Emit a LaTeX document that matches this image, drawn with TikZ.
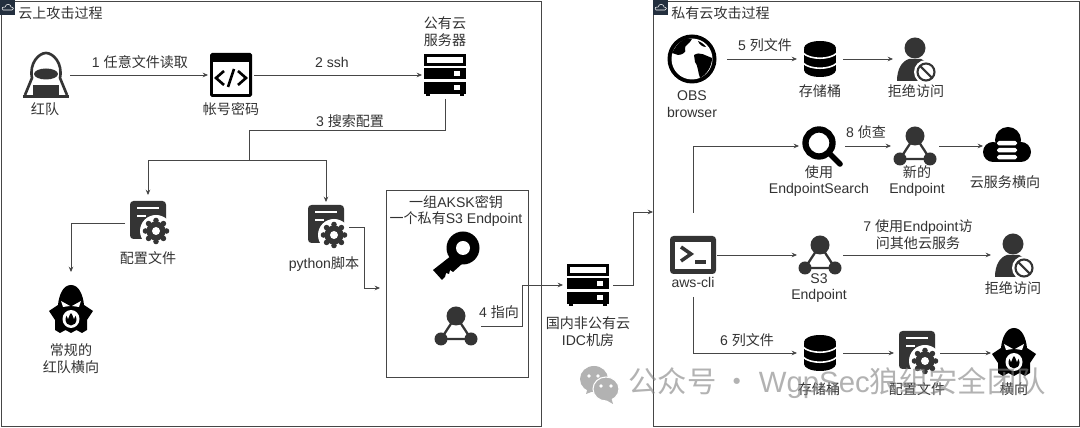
\documentclass[tikz,border=0pt]{standalone}
\usepackage{fontspec}
\setmainfont{Liberation Sans}
\newfontfamily\cjk{Noto Sans CJK SC}
\newcommand{\zh}[1]{{\cjk #1}}
\usetikzlibrary{arrows.meta,positioning}
\definecolor{icodark}{RGB}{52,52,52}
\definecolor{tagblue}{RGB}{35,47,62}
\definecolor{linegray}{RGB}{70,70,70}
\definecolor{textgray}{RGB}{50,50,50}
\tikzset{
  icohacker/.pic={
    \draw[icodark, line width=1.5pt, line join=round] (-21,20) -- (-14,3) .. controls (-17,-12) and (-7,-22) .. (0,-22) .. controls (7,-22) and (17,-12) .. (14,3) -- (21,20);
    \fill[icodark] (0,-1) ellipse (12 and 5.5);
    \fill[icodark] (-13,10) rectangle (13,21);
    \draw[icodark, line width=1.3pt] (-23,21.5) -- (23,21.5);
  },
  icocode/.pic={
    \fill[black, rounded corners=1pt] (-21,-22) rectangle (21,22);
    \fill[white] (-18,-13) rectangle (18,19);
    \draw[black, line width=1.5pt] (-7,-4) -- (-15,3) -- (-7,10);
    \draw[black, line width=1.5pt] (7,-4) -- (15,3) -- (7,10);
    \draw[black, line width=1.5pt] (3,-6) -- (-3,12);
  },
  icoserver/.pic={
    \draw[black, line width=1.3pt] (-19.5,-19.5) rectangle (19.5,-10.5);
    \fill[black] (-21,-7) rectangle (21,4);
    \fill[black] (-21,7) rectangle (21,19);
    \fill[black] (-19,19) rectangle (-15,21);
    \fill[black] (15,19) rectangle (19,21);
    \fill[white] (9,-4) rectangle (15,1);
    \fill[white] (9,10) rectangle (15,15);
  },
  icoconfig/.pic={
    \fill[icodark, rounded corners=2pt] (-18,-22) rectangle (18,16);
    \draw[white, line width=1.5pt] (-11,-15) -- (11,-15);
    \draw[white, line width=1.5pt] (-11,-7) -- (-2,-7);
    \fill[white] (8,8) circle (16);
    \fill[icodark] (8,8) circle (9.5);
    \foreach \a in {0,45,...,315} \fill[icodark] (8,8) ++(\a:10.5) circle (2.8);
    \fill[white] (8,8) circle (4);
  },
  icoghost/.pic={
    \fill[black] (0,-25) .. controls (8,-25) and (12,-15) .. (13,-5) .. controls (16,-3) and (19,-1) .. (22,1) -- (16,10) -- (16,20) -- (11,23) -- (5.5,20) -- (0,23) -- (-5.5,20) -- (-11,23) -- (-16,20) -- (-16,10) -- (-22,1) .. controls (-19,-1) and (-16,-3) .. (-13,-5) .. controls (-12,-15) and (-8,-25) .. (0,-25) -- cycle;
    \fill[white] (-10,-9) -- (-1,-4) -- (-8,-3) -- cycle;
    \fill[white] (10,-9) -- (1,-4) -- (8,-3) -- cycle;
    \fill[white] (0,9) ellipse (8.5 and 9);
    \fill[black] (0,9.5) ellipse (5.5 and 6);
    \fill[white] (-5,4) -- (-1,4) -- (-3,9) -- cycle;
    \fill[white] (5,4) -- (1,4) -- (3,9) -- cycle;
  },
  icokey/.pic={
    \fill[black] (7,-10) circle (16.5);
    \fill[white] (7,-10) circle (7);
    \fill[black] (-23,12) -- (0,-6) -- (7,5) -- (-3,14) -- (-6,12) -- (-7,16) -- (-10,15) -- (-11,19) -- (-14,22) -- cycle;
  },
  icoendpoint/.pic={
    \draw[icodark, line width=1.3pt] (0,-10) -- (-15,13) -- (15,13) -- cycle;
    \fill[icodark] (0,-10) circle (9.5);
    \fill[icodark] (-15,13) circle (6.5);
    \fill[icodark] (15,13) circle (6.5);
  },
  icoglobe/.pic={
    \fill[black] (0,0) circle (24.5);
    \fill[white] (0,0) circle (20.5);
    \fill[black] (-20,-6) .. controls (-14,-18) and (-6,-22) .. (0,-20) .. controls (-2,-15) and (-8,-14) .. (-7,-10) .. controls (-5,-7) and (-10,-4) .. (-14,-4) -- cycle;
    \fill[black] (2,-4) .. controls (8,-8) and (14,-3) .. (20,-1) .. controls (20,8) and (14,16) .. (8,19) .. controls (6,14) and (6,6) .. (3,3) -- cycle;
    \fill[black] (6,-18) .. controls (9,-17) and (13,-14) .. (14,-12) .. controls (10,-12) and (7,-15) .. (6,-18) -- cycle;
  },
  icobucket/.pic={
    \fill[black] (-16,-10) rectangle (16,11);
    \fill[black] (0,-11) ellipse (16 and 7);
    \fill[black] (0,11) ellipse (16 and 7);
    \draw[white, line width=.9pt] (-17,-6) .. controls (-10,1) and (10,1) .. (17,-6);
    \draw[white, line width=.9pt] (-17,4) .. controls (-10,11) and (10,11) .. (17,4);
  },
  icodenied/.pic={
    \fill[icodark] (-1,-11) circle (10.5);
    \fill[icodark] (-19,22) .. controls (-19,10) and (-14,2) .. (-7,0) -- (5,0) .. controls (12,2) and (15,8) .. (15,22) -- cycle;
    \fill[white] (10,13) circle (12);
    \draw[icodark, line width=1.2pt] (10,13) circle (8.5);
    \draw[icodark, line width=1.2pt] (4,7) -- (16,19);
  },
  icosearch/.pic={
    \draw[black, line width=3.6pt] (-3,-3) circle (13.5);
    \draw[black, line width=3.2pt, line cap=round] (8,8) -- (18,18);
  },
  icocloud/.pic={
    \fill[black] (1,-6) circle (13);
    \fill[black] (-14,6) circle (10);
    \fill[black] (14,6) circle (10);
    \fill[black] (-14,0) rectangle (14,16);
    \foreach \y in {-5,2,9} \fill[white, rounded corners=1pt] (-10,\y) rectangle (10,\y+4.5);
  },
  icoterminal/.pic={
    \fill[icodark, rounded corners=2pt] (-23,-19) rectangle (23,19);
    \fill[white] (-18,-13) rectangle (18,14);
    \draw[icodark, line width=2pt] (-12,-8) -- (-2,-1) -- (-12,6);
    \draw[icodark, line width=2pt] (2,7) -- (13,7);
  },
  icowechat/.pic={
    \fill[gray!60] (-6,-4) ellipse (14 and 13);
    \fill[gray!60] (-14,11) -- (-12,4) -- (-6,8) -- cycle;
    \draw[white, line width=.6pt, fill=gray!60] (6,6) ellipse (13 and 12);
    \fill[gray!60] (13,21) -- (11,14) -- (6,17) -- cycle;
    \foreach \x in {-11,-2} \fill[white] (\x,-7) circle (1.8);
    \foreach \x in {1,11} \fill[white] (\x,3) circle (1.8);
  }
}
\begin{document}
\begin{tikzpicture}[
  x=0.02cm, y=-0.02cm,
  font=\fontsize{8}{9.6}\selectfont,
  every node/.style={text=textgray},
  frame/.style={draw=linegray, line width=.5pt, anchor=north west, inner sep=0pt},
  tagbox/.style={fill=tagblue, anchor=north west, minimum size=8.5pt, inner sep=0pt},
  iconbox/.style={inner sep=0pt, outer sep=0pt},
  lab/.style={align=center, inner sep=0pt},
  line/.style={draw=linegray, line width=.45pt},
  arr/.style={line, -{Stealth[length=3pt,width=2.6pt]}}
]
\useasboundingbox (0,0) rectangle (1080,428);
\fill[white] (0,0) rectangle (1080,428);
% panels
\node[frame, minimum width=10.8cm, minimum height=8.5cm] (shangyun) at (1,1) {};
\node[frame, minimum width=8.52cm, minimum height=8.5cm] (siyou) at (653,1) {};
\node[frame, minimum width=2.86cm, minimum height=3.74cm] (aksk) at (385.5,190) {};
\foreach \n/\x in {tagshang/0,tagsi/653} {
  \node[tagbox] (\n) at (\x,0) {};
  \draw[white, line width=.3pt] (\x+3,10) .. controls (\x+1,8) and (\x+3,6) .. (\x+5,7) .. controls (\x+6,3) and (\x+11,4) .. (\x+11,7) .. controls (\x+14,7) and (\x+14,10) .. (\x+12,10) -- cycle;
}
% icons
\foreach \n/\x/\y/\w/\h/\ic in {
  hongdui/46/75/48/44/icohacker, zhanghao/231/75/46/44/icocode, gongyun/445/75/46/48/icoserver,
  peizhi/148/223/46/56/icoconfig, chuanshi/71/310/47/76/icoghost, python/326/227/46/50/icoconfig,
  miyao/456/258/48/48/icokey, siyouep/456/326/50/40/icoendpoint, idc/588/285/50/42/icoserver,
  obs/692/59/70/48/icoglobe, tonga/820/59/46/36/icobucket, judua/916/59/46/44/icodenied,
  sousuo/822/146/46/40/icosearch, xinep/915/146/48/40/icoendpoint, yunfuwu/1007/146/48/36/icocloud,
  awscli/693/255/48/84/icoterminal, sanep/820/255/46/40/icoendpoint, jubub/1014/255/46/44/icodenied,
  tongb/820/353/46/36/icobucket, peizhib/917/353/46/40/icoconfig, hengxiang/1014/353/46/48/icoghost} {
  \node[iconbox, minimum width=\w*0.02cm, minimum height=\h*0.02cm] (\n) at (\x,\y) {};
  \pic at (\n) {\ic};
}
% texts
\node[lab, anchor=west] (titlea) at (18,13) {\zh{云上攻击过程}};
\node[lab, anchor=west] (titleb) at (671,13) {\zh{私有云攻击过程}};
\foreach \n/\x/\y/\t in {
  lhongdui/45/109/\zh{红队}, lzhanghao/231/109/\zh{帐号密码}, lgongyun/445/32/\zh{公有云}\\\zh{服务器},
  lpeizhi/148/258/\zh{配置文件}, lchuanshi/71/359/\zh{常规的}\\\zh{红队横向}, lpython/324/264/python\zh{脚本},
  laksk/456/211/\zh{一组}AKSK\zh{密钥}\\\zh{一个私有}S3 Endpoint, lidc/588/332/\zh{国内非公有云}\\IDC\zh{机房},
  lobs/692/104/OBS\\browser, ltonga/820/91/\zh{存储桶}, ljua/916/91/\zh{拒绝访问},
  lsousuo/819/181/\zh{使用}\\EndpointSearch, lxinep/917/181/\zh{新的}\\Endpoint, lyunfuwu/1005/182/\zh{云服务横向},
  lawscli/693/282/aws-cli, lsanep/819/288/S3\\Endpoint, ljub/1013/288/\zh{拒绝访问},
  ltongb/819/389/\zh{存储桶}, lpeizhib/917/389/\zh{配置文件}, lhengxiang/1014/389/\zh{横向},
  eyi/140/62/1 \zh{任意文件读取}, eer/332/62/2 ssh, esan/350/121/3 \zh{搜索配置}, esi/499/312/4 \zh{指向},
  ewu/765/45/5 \zh{列文件}, eliu/747/340/6 \zh{列文件}, eqi/918/235/7 \zh{使用}Endpoint\zh{访}\\\zh{问其他云服务}, eba/866/132/8 \zh{侦查}} {
  \node[lab] (\n) at (\x,\y) {\t};
}
% connectors
\coordinate (forka) at (249,130);
\coordinate (forkb) at (249,160);
\coordinate (pyturn) at (364,288);
\coordinate (akskin) at (380,288);
\coordinate (epturn) at (522,285);
\coordinate (idcturn) at (633,212);
\draw[arr] (hongdui.east) -- (zhanghao.west);
\draw[arr] (zhanghao.east) -- (gongyun.west);
\draw[line] (gongyun.south) |- (forka) -- (forkb);
\draw[arr] (forkb) -| (peizhi.north);
\draw[arr] (forkb) -| (python.north);
\draw[arr] (peizhi.west) -| (chuanshi.north);
\draw[arr] (python.east) -| (pyturn) -- (akskin);
\draw[arr] (siyouep.east) -| (epturn) -- (idc.west);
\draw[arr] (idc.east) -| (idcturn) -- (siyou.west |- idcturn);
\draw[arr] (obs.east) -- (tonga.west);
\draw[arr] (tonga.east) -- (judua.west);
\draw[arr] (awscli.north) |- (sousuo.west);
\draw[arr] (sousuo.east) -- (xinep.west);
\draw[arr] (xinep.east) -- (yunfuwu.west);
\draw[arr] (awscli.east) -- (sanep.west);
\draw[arr] (sanep.east) -- (jubub.west);
\draw[arr] (awscli.south) |- (tongb.west);
\draw[arr] (tongb.east) -- (peizhib.west);
\draw[arr] (peizhib.east) -- (hengxiang.west);
% watermark
\pic at (600,383) {icowechat};
\node[lab, anchor=west, text=gray, opacity=.6, font=\fontsize{16.7}{20}\selectfont] (shuiyin) at (628,383) {\zh{公众号 · }WgpSec\zh{狼组安全团队}};
\end{tikzpicture}
\end{document}
